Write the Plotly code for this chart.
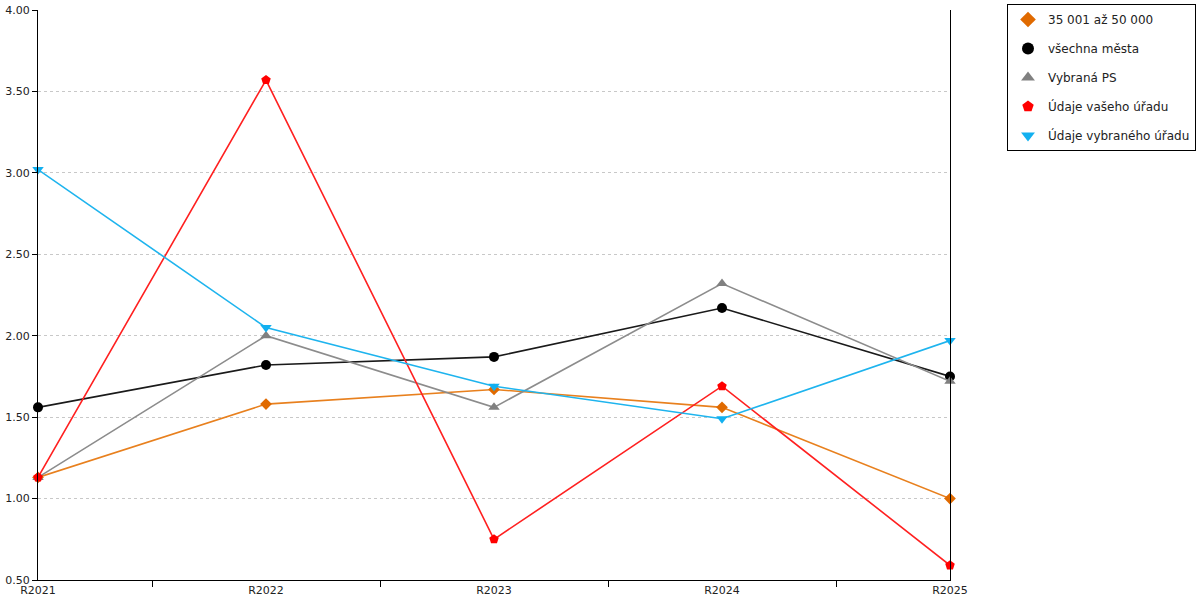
import plotly.graph_objects as go

years = ["R2021", "R2022", "R2023", "R2024", "R2025"]

mesta_35_50 = [1.13, 1.58, 1.67, 1.56, 1.00]
vsechna_mesta = [1.56, 1.82, 1.87, 2.17, 1.75]
vybrana_ps = [1.13, 2.00, 1.56, 2.32, 1.72]
vas_urad = [1.13, 3.57, 0.75, 1.69, 0.59]
vybrany_urad = [3.02, 2.05, 1.69, 1.49, 1.97]

series = [
    ("35 001 až 50 000", mesta_35_50, "#E8801E", "#E06A00", "diamond", 9),
    ("všechna města", vsechna_mesta, "#1A1A1A", "#000000", "circle", 10),
    ("Vybraná PS", vybrana_ps, "#8C8C8C", "#808080", "triangle-up", 10),
    ("Údaje vašeho úřadu", vas_urad, "#FF2020", "#FF0000", "pentagon", 10),
    ("Údaje vybraného úřadu", vybrany_urad, "#1EB4EE", "#12B0F0", "triangle-down", 10),
]

fig = go.Figure()
for name, vals, line_col, mark_col, sym, size in series:
    fig.add_trace(go.Scatter(x=years, y=vals, mode="lines+markers", name=name,
                             line=dict(color=line_col, width=1.6),
                             marker=dict(color=mark_col, symbol=sym, size=size),
                             cliponaxis=False, showlegend=False))
# legend entries show markers only
for name, vals, line_col, mark_col, sym, size in series:
    fig.add_trace(go.Scatter(x=[None], y=[None], mode="markers", name=name,
                             legendgroup=name,
                             marker=dict(color=mark_col, symbol=sym, size=size)))

fig.update_layout(
    width=1200, height=600,
    margin=dict(l=38, r=250, t=10, b=20, autoexpand=False),
    plot_bgcolor="white", paper_bgcolor="white",
    font=dict(family="DejaVu Sans", size=11, color="#222"),
    legend=dict(x=1.0625, y=1.0105, xanchor="left", yanchor="top",
                bordercolor="black", borderwidth=1, bgcolor="white",
                font=dict(size=12), tracegroupgap=10, itemwidth=30,
                itemsizing="constant"),
)
fig.update_xaxes(type="category", range=[0, 4], showline=True, linecolor="black",
                 linewidth=1, ticks="outside", ticklen=6, tickcolor="black",
                 tickson="boundaries", showgrid=False, zeroline=False,
                 automargin=False)
fig.update_yaxes(range=[0.5, 4.0], dtick=0.5, tickformat=".2f", showline=True,
                 linecolor="black", linewidth=1, mirror=True, ticks="outside",
                 ticklen=5, tickcolor="black", showgrid=True, gridcolor="#C8C8C8",
                 griddash="dot", gridwidth=1, zeroline=False, automargin=False)

# drop the default body margin so the figure sits at the page corner
fig.write_html("out.html", config={"displayModeBar": False},
               post_script="document.body.style.margin='0';")
